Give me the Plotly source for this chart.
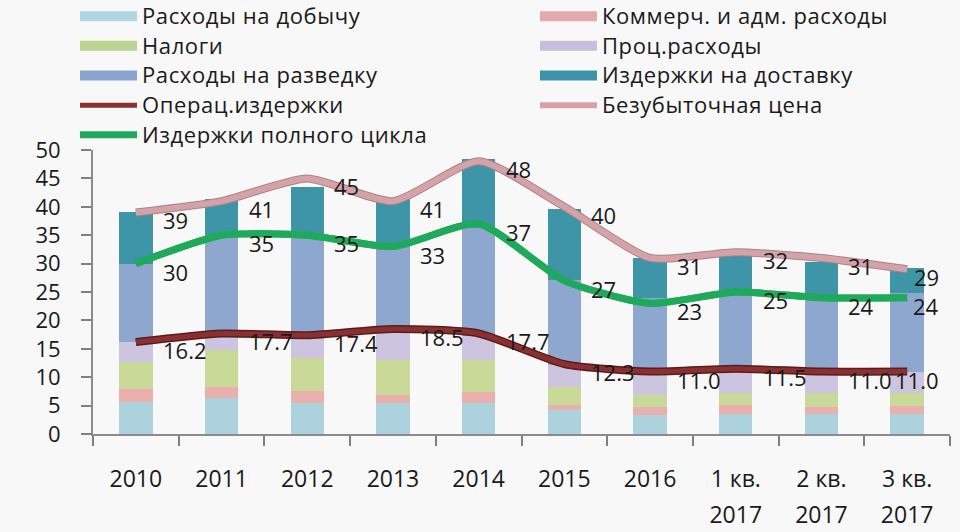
import plotly.graph_objects as go

categories = ["2010", "2011", "2012", "2013", "2014", "2015", "2016",
              "1 кв. 2017", "2 кв. 2017", "3 кв. 2017"]
tick_lines = [["2010"], ["2011"], ["2012"], ["2013"], ["2014"], ["2015"], ["2016"],
              ["1 кв.", "2017"], ["2 кв.", "2017"], ["3 кв.", "2017"]]

extraction = [5.7, 6.3, 5.4, 5.4, 5.4, 4.2, 3.4, 3.6, 3.6, 3.6]
commercial = [2.2, 2.0, 2.1, 1.5, 2.0, 0.9, 1.4, 1.5, 1.2, 1.3]
taxes = [4.8, 6.5, 5.9, 6.1, 5.6, 3.1, 2.1, 2.1, 2.4, 2.4]
interest = [3.5, 2.9, 4.0, 5.3, 4.3, 4.0, 4.1, 4.3, 3.8, 3.7]
exploration = [13.8, 17.3, 17.6, 15.2, 18.9, 14.9, 13.0, 13.3, 13.5, 13.8]
delivery = [9.0, 6.4, 8.5, 8.0, 12.2, 12.5, 6.9, 6.7, 5.8, 4.4]

op_costs = [16.2, 17.7, 17.4, 18.5, 17.7, 12.3, 11.0, 11.5, 11.0, 11.0]
breakeven = [39, 41, 45, 41, 48, 40, 31, 32, 31, 29]
full_cycle = [30, 35, 35, 33, 37, 27, 23, 25, 24, 24]

FONT = "Open Sans"
TICK_PX = 23
tick_text = ["<br>".join('<span style="font-size:%dpx">%s</span>' % (TICK_PX, s) for s in parts)
             for parts in tick_lines]


def legend_name(s):
    return '<span style="font-size:22px;letter-spacing:0.6px">%s</span>' % s


bar_series = [
    ("Расходы на добычу", extraction, "#acd2de", "#b2d5e3", 1),
    ("Коммерч. и адм. расходы", commercial, "#e9b0ae", "#e6a9aa", 2),
    ("Налоги", taxes, "#c9da98", "#bcd48f", 3),
    ("Проц.расходы", interest, "#cdc5df", "#c7bfdd", 4),
    ("Расходы на разведку", exploration, "#8ea7cf", "#8aa4cf", 5),
    ("Издержки на доставку", delivery, "#3e95a8", "#3d93a7", 6),
]

fig = go.Figure()
for name, vals, col, lcol, rank in bar_series:
    fig.add_trace(go.Bar(x=categories, y=vals, name=name, marker_color=col,
                         marker_line_width=0, showlegend=False))
for name, vals, col, lcol, rank in bar_series:
    fig.add_trace(go.Scatter(x=[None], y=[None], mode="lines", name=legend_name(name),
                             line=dict(color=lcol, width=14), legendrank=rank))

lines = [
    ("Операц.издержки", op_costs, "#8a3030", "#5a1c1c", 5, 8, 7, "{:.1f}"),
    ("Безубыточная цена", breakeven, "#d4a2a7", "#a88489", 6, 8, 8, "{:.0f}"),
    ("Издержки полного цикла", full_cycle, "#1fa95b", "#1fa95b", 7, 7, 9, "{:.0f}"),
]
last = len(categories) - 1
for name, vals, col, ocol, w, ow, rank, fmt in lines:
    fig.add_trace(go.Scatter(x=categories, y=vals, mode="lines", showlegend=False,
                             line=dict(color=ocol, width=ow, shape="spline", smoothing=0.6),
                             hoverinfo="skip"))
    fig.add_trace(go.Scatter(x=categories, y=vals, mode="lines", name=legend_name(name),
                             line=dict(color=col, width=w, shape="spline", smoothing=0.6),
                             legendrank=rank))
    for i, v in enumerate(vals):
        if i == last:
            xa, xs = "right", 34
        else:
            xa, xs = "left", 25
        fig.add_annotation(x=i, y=v, text=fmt.format(v), showarrow=False,
                           xanchor=xa, yanchor="middle", xshift=xs, yshift=-8,
                           font=dict(family=FONT, size=22, color="#1a1a1a"))

fig.update_layout(
    width=960, height=532,
    barmode="stack", bargap=0.61,
    paper_bgcolor="#f8f8f8", plot_bgcolor="#f8f8f8",
    margin=dict(l=93, r=10, t=150, b=98, autoexpand=False),
    font=dict(family=FONT, size=21, color="#1a1a1a"),
    showlegend=True,
    legend=dict(orientation="h", x=-0.021, y=1.541, xanchor="left", yanchor="top",
                entrywidth=388, entrywidthmode="pixels", itemwidth=57,
                font=dict(family=FONT, size=20.5, color="#1a1a1a"),
                bgcolor="rgba(0,0,0,0)", traceorder="normal"),
    xaxis=dict(type="category", categoryorder="array", categoryarray=categories,
               tickmode="array", tickvals=categories, ticktext=tick_text,
               range=[-0.5, 9.5], tickson="boundaries", ticks="outside", ticklen=10,
               tickcolor="#808080", tickwidth=1.5, showline=True, linecolor="#8c8c8c",
               linewidth=2, showgrid=False, ticklabelstandoff=19, automargin=False,
               tickfont=dict(family=FONT, size=27)),
    yaxis=dict(range=[0, 50], dtick=5, ticks="outside", ticklen=10, tickcolor="#808080",
               tickwidth=1.5, showline=True, linecolor="#8c8c8c", linewidth=2,
               showgrid=False, zeroline=False, ticklabelstandoff=16, automargin=False,
               tickfont=dict(family=FONT, size=22)),
)

fig.write_html("out.html")
